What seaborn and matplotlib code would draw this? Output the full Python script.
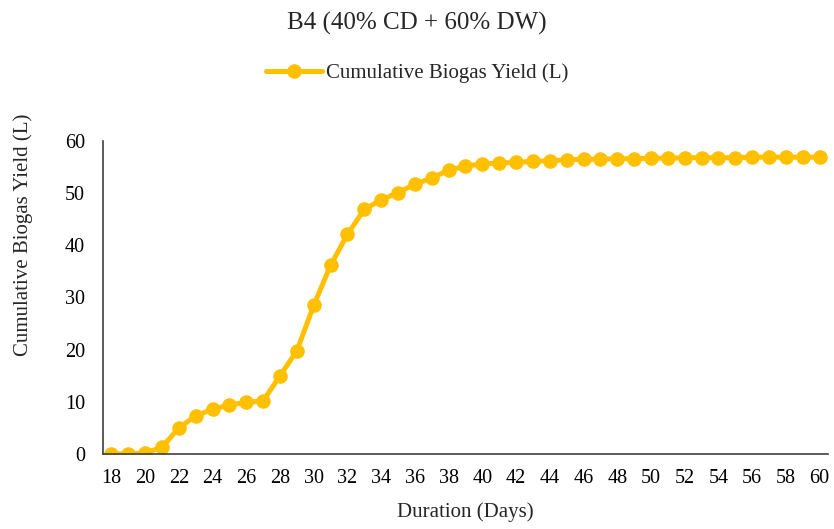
import pandas as pd
import matplotlib.pyplot as plt
import seaborn as sns

# Data
days = list(range(18, 61))
cumulative_yield = [
    0.0, 0.0, 0.2, 1.3, 5.0, 7.3, 8.6, 9.4, 9.9, 10.2,
    15.0, 19.8, 28.5, 36.2, 42.1, 46.9, 48.7, 50.1, 51.7, 52.9,
    54.4, 55.2, 55.6, 55.8, 55.9, 56.1, 56.2, 56.4, 56.5, 56.5,
    56.6, 56.6, 56.7, 56.7, 56.8, 56.8, 56.8, 56.8, 56.9, 56.9,
    56.9, 56.9, 56.9,
]
x_ticks = list(range(18, 61, 2))
y_ticks = [0, 10, 20, 30, 40, 50, 60]

df = pd.DataFrame({"Duration (Days)": days, "Cumulative Biogas Yield (L)": cumulative_yield})

sns.set_style("white")
plt.rcParams['font.family'] = ['Liberation Serif', 'DejaVu Serif']

fig = plt.figure(figsize=(8.34, 5.29), dpi=100)
ax = fig.add_axes([0.1235, 0.1418, 0.8693, 0.5917])

sns.lineplot(data=df, x="Duration (Days)", y="Cumulative Biogas Yield (L)", ax=ax,
             color="#FFC000", linewidth=3.6, marker="o", markersize=10.5,
             markeredgewidth=0, label="Cumulative Biogas Yield (L)")

ax.set_xlim(17.5, 60.5)
ax.set_ylim(0, 60)
ax.set_xticks(x_ticks)
ax.set_yticks(y_ticks)
ax.tick_params(axis="both", length=0, labelsize=14.5, colors="black")
ax.tick_params(axis="y", pad=13)
ax.tick_params(axis="x", pad=11)
for s in ["top", "right"]:
    ax.spines[s].set_visible(False)
for s in ["left", "bottom"]:
    ax.spines[s].set_color("#404040")
    ax.spines[s].set_linewidth(1.2)

ax.set_xlabel("Duration (Days)", fontsize=15)
ax.set_ylabel("Cumulative Biogas Yield (L)", fontsize=15)
ax.xaxis.set_label_coords(0.5, -0.155)
ax.yaxis.set_label_coords(-0.096, 0.70)

fig.suptitle("B4 (40% CD + 60% DW)", fontsize=18, y=0.978)
ax.legend(loc="center", bbox_to_anchor=(0.5, 0.862), bbox_transform=fig.transFigure,
          frameon=False, fontsize=15, handlelength=2.7, handletextpad=0.2)

fig.savefig("out.png", dpi=100)
